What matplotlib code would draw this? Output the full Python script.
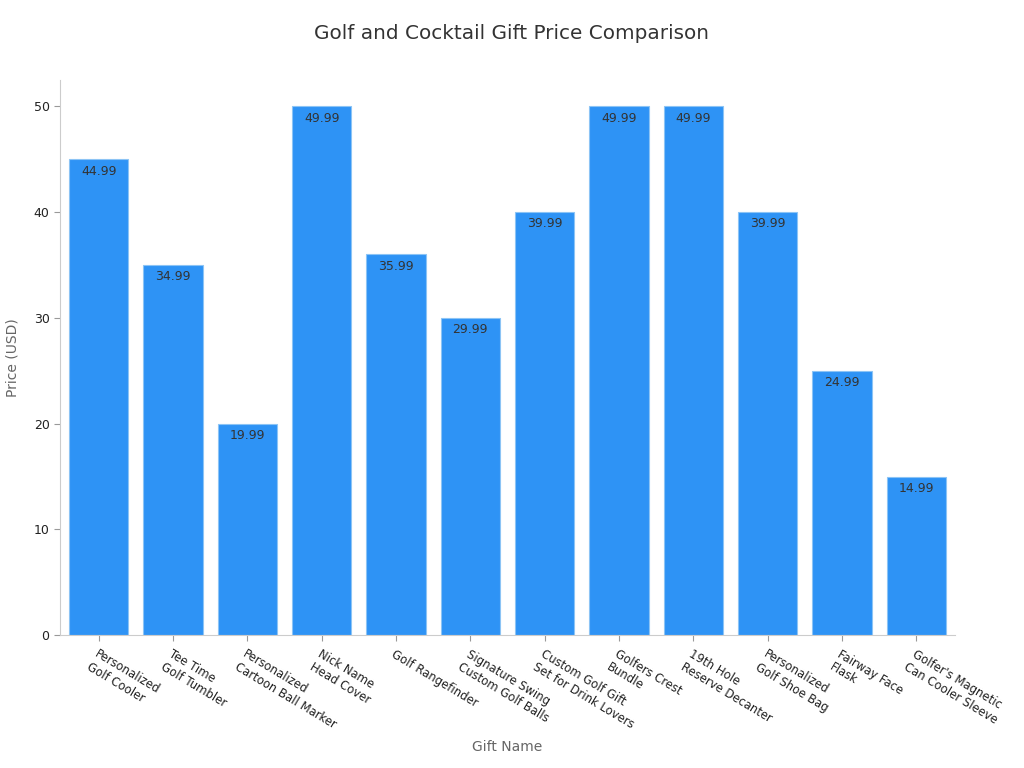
import numpy as np
import matplotlib
matplotlib.use("Agg")
import matplotlib.pyplot as plt

gifts = ["Personalized\nGolf Cooler", "Tee Time\nGolf Tumbler", "Personalized\nCartoon Ball Marker",
         "Nick Name\nHead Cover", "Golf Rangefinder", "Signature Swing\nCustom Golf Balls",
         "Custom Golf Gift\nSet for Drink Lovers", "Golfers Crest\nBundle", "19th Hole\nReserve Decanter",
         "Personalized\nGolf Shoe Bag", "Fairway Face\nFlask", "Golfer's Magnetic\nCan Cooler Sleeve"]
prices = [44.99, 34.99, 19.99, 49.99, 35.99, 29.99, 39.99, 49.99, 49.99, 39.99, 24.99, 14.99]

plt.rcParams['font.family'] = ['DejaVu Sans']
fig = plt.figure(figsize=(10.24, 7.68), dpi=100)
ax = fig.add_axes([0.0586, 0.173, 0.874, 0.723])

x = np.arange(len(gifts))
bars = ax.bar(x, prices, width=0.8, color='#2E93F5', edgecolor='#8CC4F5', linewidth=0.8)
for xi, p in zip(x, prices):
    ax.text(xi, p - 0.5, f"{p:.2f}", ha='center', va='top', fontsize=9, color='#333333')

ax.set_xlim(-0.52, 11.52)
ax.set_ylim(0, 52.5)
ax.set_xticks(x)
ax.set_xticklabels(gifts, rotation=-31, ha='left', va='top', rotation_mode='anchor',
                   fontsize=8.4, color='#222222')
ax.set_yticks([0, 10, 20, 30, 40, 50])
ax.tick_params(axis='y', labelsize=9, colors='#222222', length=4, color='#999999')
ax.tick_params(axis='x', length=4, color='#999999', pad=5)
for s in ['top', 'right']:
    ax.spines[s].set_visible(False)
for s in ['left', 'bottom']:
    ax.spines[s].set_color('#cccccc')

ax.set_ylabel("Price (USD)", fontsize=10, color='#666666', labelpad=10)
ax.set_xlabel("Gift Name", fontsize=10, color='#666666', labelpad=6)
fig.text(0.5, 0.956, "Golf and Cocktail Gift Price Comparison", ha='center', va='center',
         fontsize=14.4, color='#333333')

fig.savefig("out.png", dpi=100)
